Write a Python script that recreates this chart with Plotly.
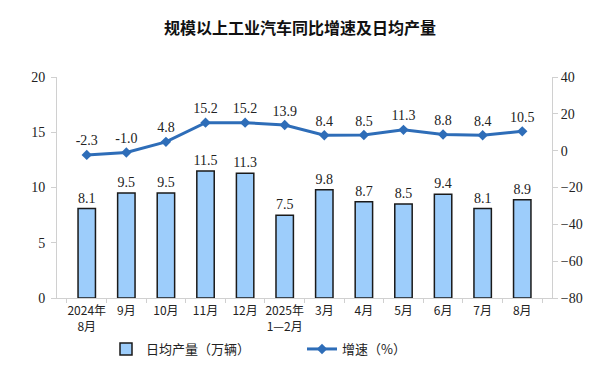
import plotly.graph_objects as go

categories = ["2024年<br>8月", "9月", "10月", "11月", "12月", "2025年<br>1—2月",
              "3月", "4月", "5月", "6月", "7月", "8月"]
daily_output = [8.1, 9.5, 9.5, 11.5, 11.3, 7.5, 9.8, 8.7, 8.5, 9.4, 8.1, 8.9]
growth = [-2.3, -1.0, 4.8, 15.2, 15.2, 13.9, 8.4, 8.5, 11.3, 8.8, 8.4, 10.5]

serif = "Liberation Serif, Times New Roman, Noto Sans CJK SC, serif"
cjk = "Noto Sans CJK SC, sans-serif"

# page body has an 8px default margin; compensate positions
OFF = 8
W, H = 600, 370

fig = go.Figure()
fig.add_trace(go.Bar(
    x=categories, y=daily_output, name="日均产量（万辆）",
    marker=dict(color="#9DCDFB", line=dict(color="#1a1a1a", width=1.5)),
    width=0.44,
    text=[f"{v:.1f}" for v in daily_output], textposition="outside",
    constraintext="none",
    textfont=dict(family=serif, size=14, color="#222"),
    cliponaxis=False, legend="legend",
))
fig.add_trace(go.Scatter(
    x=categories, y=growth, name="增速（%）", yaxis="y2",
    mode="lines+markers+text",
    line=dict(color="#2E6DB8", width=3),
    marker=dict(symbol="diamond", size=8, color="#2E6DB8"),
    text=[f"{v:.1f}" for v in growth], textposition="top center",
    textfont=dict(family=serif, size=14, color="#222"),
    cliponaxis=False, legend="legend2",
))

leg_common = dict(orientation="h", xref="container", yref="container",
                  xanchor="left", yanchor="middle", bgcolor="rgba(0,0,0,0)",
                  font=dict(family=cjk, size=13, color="#222"))

fig.update_layout(
    width=W, height=H,
    margin=dict(l=57 - OFF, r=W - (552 - OFF), t=77 - OFF, b=H - (298 - OFF),
                autoexpand=False),
    paper_bgcolor="white", plot_bgcolor="white",
    title=dict(text="<b>规模以上工业汽车同比增速及日均产量</b>",
               x=(300 - OFF) / W, y=1 - (28 - OFF) / H,
               xref="container", yref="container",
               xanchor="center", yanchor="middle",
               font=dict(family=cjk, size=16, color="#111")),
    font=dict(family=serif, size=12, color="#222"),
    showlegend=True,
    legend=dict(x=(106 - OFF) / W, y=1 - (349 - OFF) / H, **leg_common),
    legend2=dict(x=(302 - OFF) / W, y=1 - (349 - OFF) / H, **leg_common),
    xaxis=dict(type="category", showline=True, linecolor="#d0d0d0", linewidth=1,
               ticks="outside", tickson="boundaries", ticklen=4, tickcolor="#d0d0d0",
               tickfont=dict(family=cjk, size=12, color="#222"), showgrid=False,
               tickangle=0, ticklabelstandoff=2),
    yaxis=dict(range=[0, 20], dtick=5, showline=True, linecolor="#d0d0d0",
               ticks="outside", ticklen=5, tickcolor="#d0d0d0", showgrid=False,
               zeroline=False, tickfont=dict(family=serif, size=14, color="#222"),
               ticklabelstandoff=3),
    yaxis2=dict(range=[-80, 40], dtick=20, overlaying="y", side="right",
                showline=True, linecolor="#d0d0d0", ticks="outside", ticklen=5,
                tickcolor="#d0d0d0", showgrid=False, zeroline=False,
                tickfont=dict(family=serif, size=14, color="#222")),
)

fig.write_html("out.html")
